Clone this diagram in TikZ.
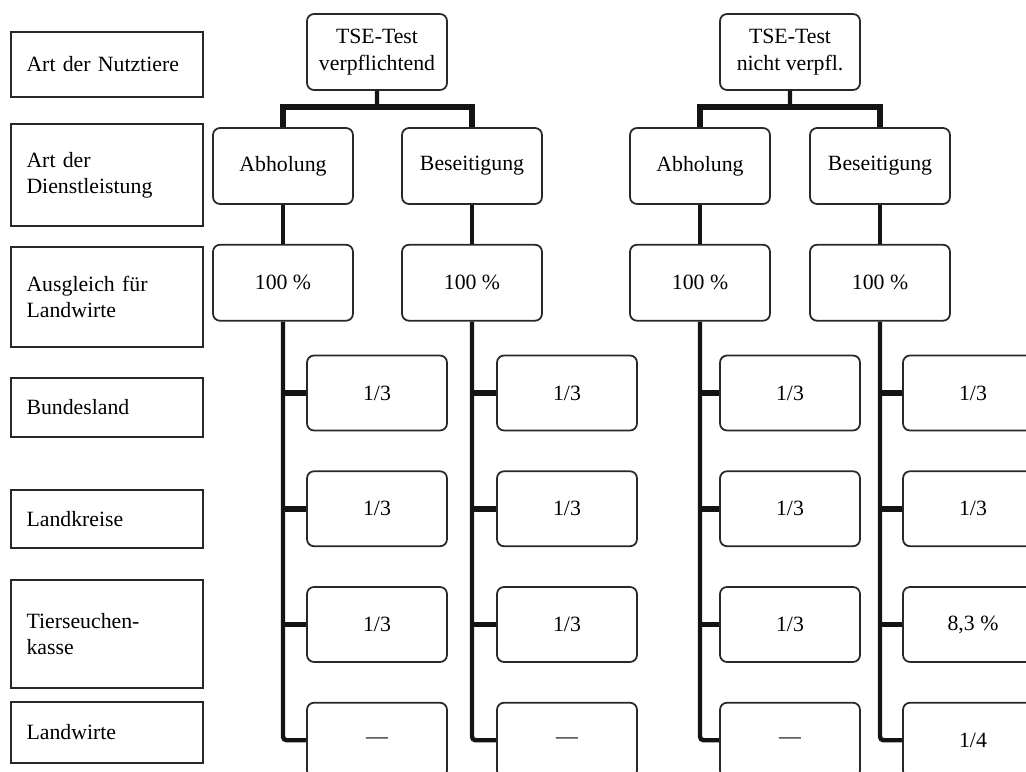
\documentclass[tikz,border=0pt]{standalone}
\usepackage{tikz}
\usetikzlibrary{positioning, calc}
\usepackage{fontspec}
\setmainfont{Liberation Serif}
\definecolor{bBox}{RGB}{40, 40, 40}
\definecolor{tDark}{RGB}{20, 20, 20}

\begin{document}
\begin{tikzpicture}[
    x=0.02cm, y=-0.02cm,
    font=\fontsize{12.4}{15}\selectfont,
    rowlabel/.style={
        draw=bBox,
        line width=1pt,
        text width=3.22cm,
        inner xsep=0.31cm,
        align=left,
        minimum height=#1
    },
    block/.style={
        draw=bBox,
        line width=1pt,
        rounded corners=4pt,
        align=center,
        minimum width=2.8cm,
        minimum height=1.52cm,
        inner sep=2pt
    },
    share/.style={block, minimum height=1.5cm},
    tree/.style={line width=2.5pt, color=tDark},
    twig/.style={tree, line width=3.2pt}
]
\useasboundingbox (0,0) rectangle (1026,771);
\clip (0,0) rectangle (1026,771);

% Row labels
\node[rowlabel=1.3cm]  (lab1) at (107,64.5) {Art der Nutztiere};
\node[rowlabel=2.04cm] (lab2) at (107,175)  {Art der\\Dienstleistung};
\node[rowlabel=2.0cm]  (lab3) at (107,297)  {Ausgleich für\\Landwirte};
\node[rowlabel=1.18cm] (lab4) at (107,407.5) {Bundesland};
\node[rowlabel=1.16cm] (lab5) at (107,519)  {Landkreise};
\node[rowlabel=2.16cm] (lab6) at (107,634)  {Tierseuchen-\\kasse};
\node[rowlabel=1.22cm] (lab7) at (107,732.5) {Landwirte};

% TSE test
\node[block] (top1) at (377,52) {TSE-Test\\verpflichtend};
\node[block] (top2) at (790,52) {TSE-Test\\nicht verpfl.};

% Service
\node[block] (abh1) at (283,166) {Abholung};
\node[block] (bes1) at (472,166) {Beseitigung};
\node[block] (abh2) at (700,166) {Abholung};
\node[block] (bes2) at (880,166) {Beseitigung};

% Compensation
\node[block, below=0.78cm of abh1] (pct1) {100 \%};
\node[block, below=0.78cm of bes1] (pct2) {100 \%};
\node[block, below=0.78cm of abh2] (pct3) {100 \%};
\node[block, below=0.78cm of bes2] (pct4) {100 \%};

% Shares
\node[share] (c1r1) at (377,393) {1/3};
\node[share, below=0.78cm of c1r1] (c1r2) {1/3};
\node[share, below=0.78cm of c1r2] (c1r3) {1/3};
\node[share, below=0.78cm of c1r3] (c1r4) {—};

\node[share] (c2r1) at (567,393) {1/3};
\node[share, below=0.78cm of c2r1] (c2r2) {1/3};
\node[share, below=0.78cm of c2r2] (c2r3) {1/3};
\node[share, below=0.78cm of c2r3] (c2r4) {—};

\node[share] (c3r1) at (790,393) {1/3};
\node[share, below=0.78cm of c3r1] (c3r2) {1/3};
\node[share, below=0.78cm of c3r2] (c3r3) {1/3};
\node[share, below=0.78cm of c3r3] (c3r4) {—};

\node[share] (c4r1) at (973,393) {1/3};
\node[share, below=0.78cm of c4r1] (c4r2) {1/3};
\node[share, below=0.78cm of c4r2] (c4r3) {8,3 \%};
\node[share, below=0.78cm of c4r3] (c4r4) {1/4};

% Forks
\coordinate (f1) at ($(top1.south)!0.45!(top1.south |- abh1.north)$);
\coordinate (f2) at ($(top2.south)!0.45!(top2.south |- abh2.north)$);
\draw[tree] (top1.south) -- (f1);
\draw[twig] (abh1.north) |- (f1) -| (bes1.north);
\draw[tree] (top2.south) -- (f2);
\draw[twig] (abh2.north) |- (f2) -| (bes2.north);

\draw[tree] (abh1) -- (pct1);
\draw[tree] (bes1) -- (pct2);
\draw[tree] (abh2) -- (pct3);
\draw[tree] (bes2) -- (pct4);

% Trunks and branches
\draw[tree, rounded corners=2pt] (pct1.south) |- (c1r4.west);
\draw[twig] (pct1.south |- c1r1.west) -- (c1r1.west);
\draw[twig] (pct1.south |- c1r2.west) -- (c1r2.west);
\draw[twig] (pct1.south |- c1r3.west) -- (c1r3.west);

\draw[tree, rounded corners=2pt] (pct2.south) |- (c2r4.west);
\draw[twig] (pct2.south |- c2r1.west) -- (c2r1.west);
\draw[twig] (pct2.south |- c2r2.west) -- (c2r2.west);
\draw[twig] (pct2.south |- c2r3.west) -- (c2r3.west);

\draw[tree, rounded corners=2pt] (pct3.south) |- (c3r4.west);
\draw[twig] (pct3.south |- c3r1.west) -- (c3r1.west);
\draw[twig] (pct3.south |- c3r2.west) -- (c3r2.west);
\draw[twig] (pct3.south |- c3r3.west) -- (c3r3.west);

\draw[tree, rounded corners=2pt] (pct4.south) |- (c4r4.west);
\draw[twig] (pct4.south |- c4r1.west) -- (c4r1.west);
\draw[twig] (pct4.south |- c4r2.west) -- (c4r2.west);
\draw[twig] (pct4.south |- c4r3.west) -- (c4r3.west);

\end{tikzpicture}
\end{document}
